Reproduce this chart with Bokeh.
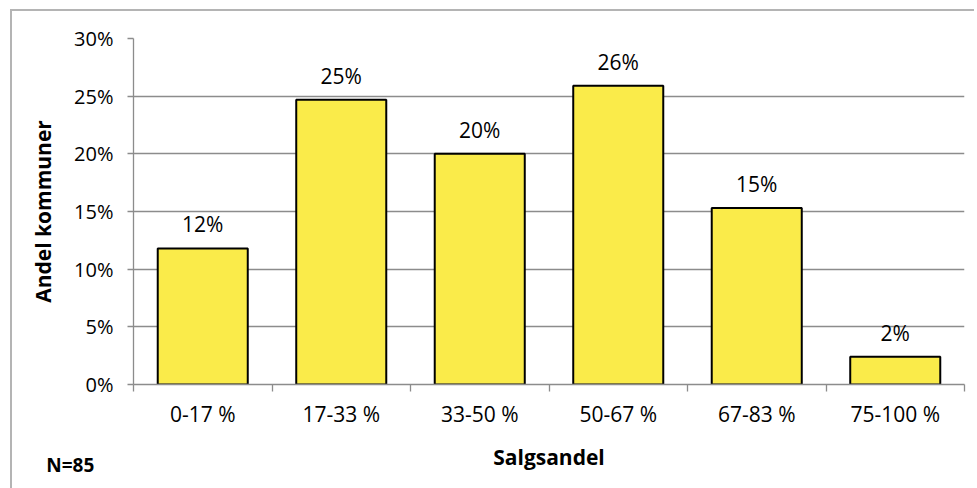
from bokeh.plotting import figure
from bokeh.models import Range1d, FixedTicker, PrintfTickFormatter, ColumnDataSource, Label
from bokeh.core.properties import value
from bokeh.embed import file_html
from bokeh.resources import INLINE

# ---- data ----
categories = ["0-17 %", "17-33 %", "33-50 %", "50-67 %", "67-83 %", "75-100 %"]
shares = [11.8, 24.7, 20.0, 25.9, 15.3, 2.4]
y_ticks = [0, 5, 10, 15, 20, 25, 30]
x_title = "Salgsandel"
y_title = "Andel kommuner"
note = "N=85"

# ---- style ----
GRAY = "#8C8C8C"
FONT = "Open Sans"
BAR = "#FAEB4A"

n = len(categories)
centers = [i + 0.5 for i in range(n)]
bounds = list(range(n + 1))
labels = [f"{round(v)}%" for v in shares]
src = ColumnDataSource(dict(x=centers, top=shares, label=labels))

p = figure(frame_width=831, frame_height=346,
           min_border_left=121, min_border_right=10, min_border_top=27, min_border_bottom=100,
           x_range=Range1d(0, n), y_range=Range1d(y_ticks[0], y_ticks[-1]),
           output_backend="svg", toolbar_location=None,
           background_fill_color="white", border_fill_color="white")
p.outline_line_color = None
p.margin = (9, 0, 0, 10)
p.styles = {"border-top": "2px solid #B4B4B4", "border-left": "2px solid #B4B4B4"}

p.vbar(x="x", top="top", width=0.65, bottom=0, source=src,
       fill_color=BAR, line_color="black", line_width=2)

p.text(x="x", y="top", text="label", source=src, text_align="center",
       text_baseline="alphabetic", y_offset=-24,
       text_font=value(FONT), text_font_size="21px", text_color="black")

# x axis
xa = p.xaxis[0]
xa.ticker = FixedTicker(ticks=centers, minor_ticks=bounds)
xa.major_label_overrides = {c: lab for c, lab in zip(centers, categories)}
xa.major_tick_out = 0
xa.major_tick_in = 0
xa.minor_tick_out = 7
xa.minor_tick_in = 0
xa.minor_tick_line_color = GRAY
xa.minor_tick_line_width = 1.3
xa.axis_line_color = GRAY
xa.axis_line_width = 1.3
xa.major_label_text_font = FONT
xa.major_label_text_font_size = "21px"
xa.major_label_text_color = "black"
xa.major_label_standoff = 8
xa.axis_label = x_title
xa.axis_label_text_font = FONT
xa.axis_label_text_font_style = "bold"
xa.axis_label_text_font_size = "21px"
xa.axis_label_text_color = "black"
xa.axis_label_standoff = 12

# y axis
ya = p.yaxis[0]
ya.ticker = FixedTicker(ticks=y_ticks, minor_ticks=[])
ya.formatter = PrintfTickFormatter(format="%d%%")
ya.major_tick_out = 6
ya.major_tick_in = 0
ya.major_tick_line_color = GRAY
ya.major_tick_line_width = 1.3
ya.minor_tick_line_color = None
ya.axis_line_color = GRAY
ya.axis_line_width = 1.3
ya.major_label_text_font = FONT
ya.major_label_text_font_size = "20px"
ya.major_label_text_color = "black"
ya.major_label_standoff = 14
ya.axis_label = y_title
ya.axis_label_text_font = FONT
ya.axis_label_text_font_style = "bold"
ya.axis_label_text_font_size = "21px"
ya.axis_label_text_color = "black"
ya.axis_label_standoff = 14

p.xgrid.visible = False
p.ygrid.grid_line_color = GRAY
p.ygrid.grid_line_width = 1.3

# sample-size note, placed in the bottom side panel so it is not clipped to the frame
p.add_layout(Label(x=-0.63, y=-7.0, text=note,
                   text_font=FONT, text_font_style="bold",
                   text_font_size="19px", text_color="black", text_baseline="alphabetic"),
             "below")

open("out.html", "w").write(file_html(p, INLINE))
